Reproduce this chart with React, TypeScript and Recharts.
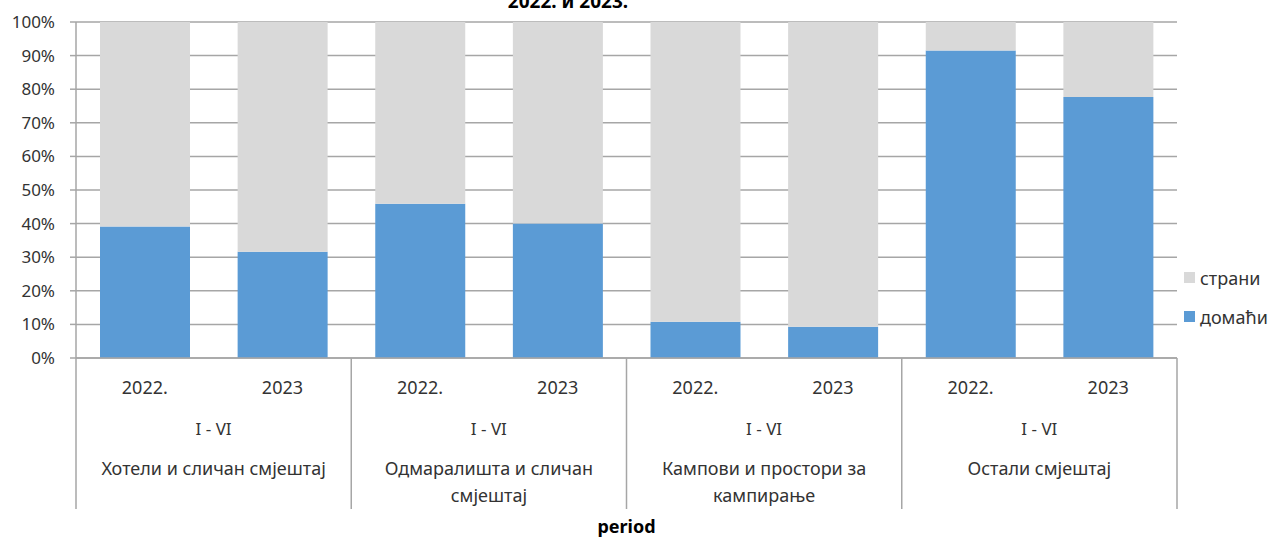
import React from 'react';
import { BarChart, Bar, XAxis, YAxis, CartesianGrid, Legend, Customized, Label } from 'recharts';

const years = ['2022.', '2023', '2022.', '2023', '2022.', '2023', '2022.', '2023'];
const periodLabel = 'I - VI';
const groups = [
  'Хотели и сличан смјештај',
  'Одмаралишта и сличан смјештај',
  'Кампови и простори за кампирање',
  'Остали смјештај',
];
const groupLabelLines = [
  ['Хотели и сличан смјештај'],
  ['Одмаралишта и сличан', 'смјештај'],
  ['Кампови и простори за', 'кампирање'],
  ['Остали смјештај'],
];
const groupOfBar = [0, 0, 1, 1, 2, 2, 3, 3];
const domaci = [39.1, 31.6, 45.9, 40.0, 10.8, 9.3, 91.5, 77.7];
const strani = [60.9, 68.4, 54.1, 60.0, 89.2, 90.7, 8.5, 22.3];
const yTicks = [0, 10, 20, 30, 40, 50, 60, 70, 80, 90, 100];
const seriesNames = { domaci: 'домаћи', strani: 'страни' };
const titleText = '2022. и 2023.';
const axisTitle = 'period';

const W = 1273;
const H = 537;
const LEFT = 76;
const RIGHT_MARGIN = 96;
const PLOT_W = W - LEFT - RIGHT_MARGIN;
const AXIS_A_H = 50;
const AXIS_B_H = 129;
const FONT = '"Noto Sans", sans-serif';
const TEXT = '#333333';
const GRID = '#a6a6a6';
const BLUE = '#5b9bd5';
const GREY = '#d9d9d9';
const LABEL_FS = 18;

const data = years.map((y, i) => ({
  idx: i,
  group: groups[groupOfBar[i]],
  domaci: domaci[i],
  strani: strani[i],
}));

const YearTick = (props: any) => {
  const { x, y, payload } = props;
  return (
    <text x={x} y={y + 36} textAnchor="middle" fontSize={LABEL_FS} fill={TEXT} fontFamily={FONT}>
      {years[payload.value]}
    </text>
  );
};

const GroupTick = (props: any) => {
  const { x, y, payload } = props;
  const half = payload && payload.offset > 0 ? payload.offset : PLOT_W / 8;
  const gi = groups.indexOf(payload.value);
  const lines = gi >= 0 ? groupLabelLines[gi] : [String(payload.value)];
  return (
    <g>
      <line x1={x - half} x2={x - half} y1={y - AXIS_A_H} y2={y + 101} stroke={GRID} strokeWidth={1.5} />
      {gi === groups.length - 1 && (
        <line x1={x + half} x2={x + half} y1={y - AXIS_A_H} y2={y + 101} stroke={GRID} strokeWidth={1.5} />
      )}
      <text x={x} y={y + 27} textAnchor="middle" fontSize={17} fill={TEXT} fontFamily={FONT}>
        {periodLabel}
      </text>
      {lines.map((l, k) => (
        <text key={k} x={x} y={y + 67 + 27 * k} textAnchor="middle" fontSize={LABEL_FS} fill={TEXT} fontFamily={FONT}>
          {l}
        </text>
      ))}
    </g>
  );
};

const LegendContent = (props: any) => {
  const payload = (props.payload || []).slice().reverse();
  return (
    <div style={{ fontFamily: FONT }}>
      {payload.map((p: any, i: number) => (
        <div key={i} style={{ display: 'flex', alignItems: 'center', height: 39 }}>
          <span style={{ display: 'inline-block', width: 11, height: 11, background: p.color, marginRight: 5 }} />
          <span style={{ fontSize: LABEL_FS, color: TEXT, lineHeight: 1 }}>{p.value}</span>
        </div>
      ))}
    </div>
  );
};

const Title = () => (
  <text x={568} y={8} textAnchor="middle" fontSize={19} fontWeight="bold" fill="#000" fontFamily={FONT}>
    {titleText}
  </text>
);

export default function App() {
  return (
    <div style={{ position: 'absolute', left: 0, top: 0, width: W, height: H, background: '#fff' }}>
      <BarChart
        width={W}
        height={H}
        data={data}
        margin={{ top: 22, right: RIGHT_MARGIN, left: 0, bottom: 0 }}
        style={{ fontFamily: FONT }}
      >
        <CartesianGrid vertical={false} stroke={GRID} strokeWidth={1.5} />
        <XAxis
          dataKey="idx"
          height={AXIS_A_H}
          tick={<YearTick />}
          tickLine={false}
          tickSize={0}
          tickMargin={0}
          interval={0}
          axisLine={{ stroke: GRID, strokeWidth: 1.5 }}
        />
        <XAxis
          xAxisId="grp"
          dataKey="group"
          allowDuplicatedCategory={false}
          height={AXIS_B_H}
          tick={<GroupTick />}
          tickLine={false}
          tickSize={0}
          tickMargin={0}
          interval={0}
          axisLine={false}
        >
          <Label
            value={axisTitle}
            position="insideBottom"
            offset={4}
            style={{ fontSize: 18, fontWeight: 'bold', fill: '#000', fontFamily: FONT }}
          />
        </XAxis>
        <YAxis
          width={LEFT}
          domain={[0, 100]}
          ticks={yTicks}
          interval={0}
          tickFormatter={(v: number) => `${v}%`}
          tick={{ fontSize: 17, fill: TEXT, fontFamily: FONT }}
          tickSize={6}
          tickMargin={15}
          axisLine={{ stroke: GRID, strokeWidth: 1.5 }}
          tickLine={{ stroke: GRID, strokeWidth: 1.5 }}
        />
        <Legend
          layout="vertical"
          align="center"
          verticalAlign="middle"
          content={<LegendContent />}
          wrapperStyle={{ position: 'absolute', left: 1184, top: 258, width: 'auto', height: 'auto' }}
        />
        <Bar dataKey="domaci" name={seriesNames.domaci} stackId="a" fill={BLUE} barSize={90} isAnimationActive={false} />
        <Bar dataKey="strani" name={seriesNames.strani} stackId="a" fill={GREY} barSize={90} isAnimationActive={false} />
        <Customized component={Title} />
      </BarChart>
    </div>
  );
}
